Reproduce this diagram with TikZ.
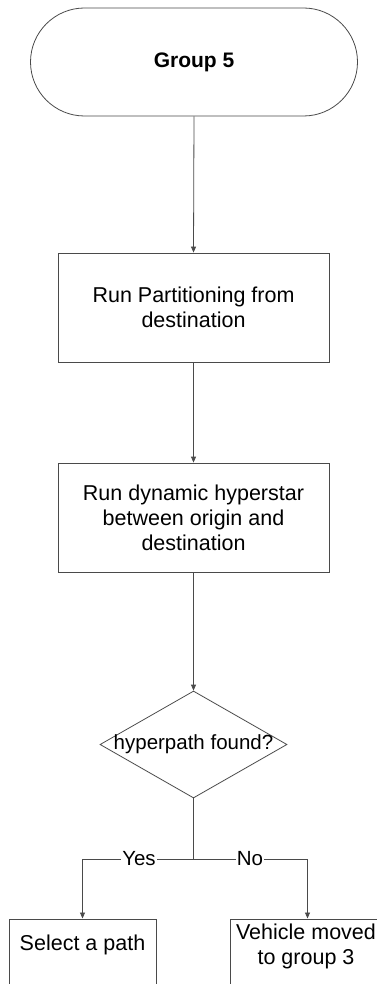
\documentclass[tikz,border=0pt]{standalone}
\usepackage{fontspec}
\setmainfont{Liberation Sans}
\usetikzlibrary{shapes.geometric,arrows.meta}
\definecolor{linec}{HTML}{4A4A4A}
\begin{document}
\begin{tikzpicture}[x=1pt,y=-1pt,
  every node/.style={font=\fontsize{21.5}{25}\selectfont, text=black},
  boxst/.style={draw=linec, line width=0.8pt, rectangle, align=center, inner sep=0},
  termst/.style={draw=linec, line width=0.8pt, rectangle, rounded corners=54pt, inner sep=0},
  decst/.style={draw=linec, line width=0.8pt, diamond, inner sep=0, minimum width=187pt, minimum height=107pt},
  conn/.style={draw=linec, line width=0.8pt},
  arr/.style={conn, -{Triangle[length=6pt,width=5pt]}},
  lbl/.style={fill=white, inner sep=1pt, font=\fontsize{20.5}{24}\selectfont}
]
\useasboundingbox (0,0) rectangle (377,984);
\clip (0,0) rectangle (377,984);
\fill[white] (0,0) rectangle (377,984);
\node[termst, minimum width=327pt, minimum height=108pt, font=\fontsize{21}{25}\selectfont\bfseries] (start) at (194,62) {Group 5};
\node[boxst, minimum width=271pt, minimum height=109pt] (part) at (193.5,307.5) {Run Partitioning from\\destination};
\node[boxst, minimum width=271pt, minimum height=109pt] (hyper) at (193.5,517.5) {Run dynamic hyperstar\\between origin and\\destination};
\node[decst] (dec) at (193.5,744.5) {};
\node[font=\fontsize{20.5}{24}\selectfont] (dectext) at (dec.center) {hyperpath found?};
\node[boxst, minimum width=147pt, minimum height=90pt, anchor=north] (sel) at (82.5,918.5) {};
\node (seltext) at (82.5,945) {Select a path};
\node[boxst, minimum width=154pt, minimum height=90pt, anchor=north] (veh) at (307.5,918.5) {};
\node[align=center] (vehtext) at (306,946) {Vehicle moved\\to group 3};
\coordinate (j) at (193.5,859);
\draw[arr] (start.south) -- (part.north);
\draw[arr] (part.south) -- (hyper.north);
\draw[arr] (hyper.south) -- (dec.north);
\draw[conn] (dec.south) -- (j);
\draw[arr] (j) -- (sel.north |- j) -- (sel.north);
\draw[arr] (j) -- (veh.north |- j) -- (veh.north);
\node[lbl] (yes) at (139,859) {Yes};
\node[lbl] (no) at (250,859) {No};
\end{tikzpicture}
\end{document}
